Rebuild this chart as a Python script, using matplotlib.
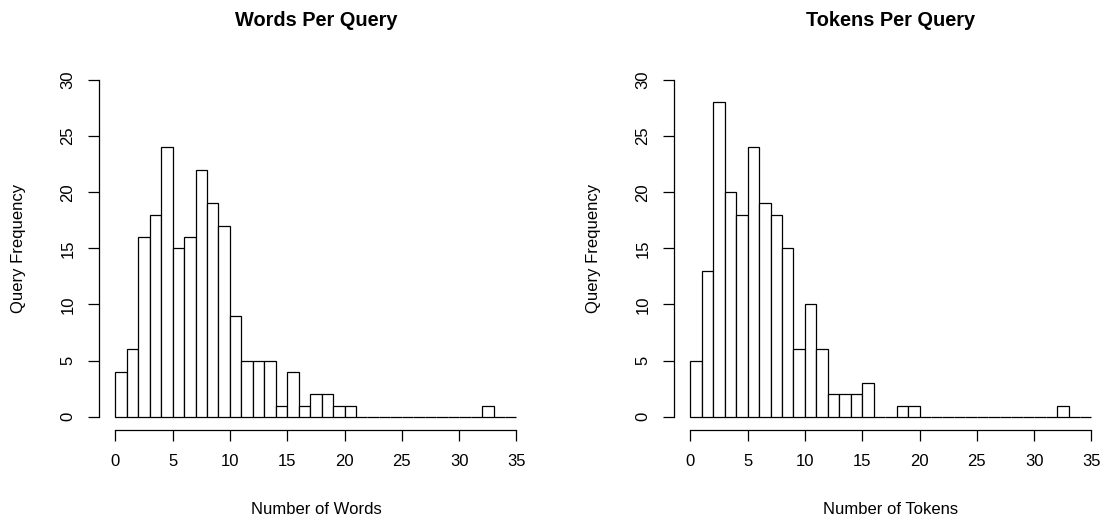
import numpy as np
import matplotlib
matplotlib.use("Agg")
import matplotlib.pyplot as plt

plt.rcParams['font.family'] = ['Liberation Sans', 'DejaVu Sans']

# histogram counts, bins of width 1 from 0 to 35
bin_edges = np.arange(0, 36)
words_counts = [4, 6, 16, 18, 24, 15, 16, 22, 19, 17, 9, 5, 5, 5, 1, 4, 1, 2, 2, 1, 1,
                0, 0, 0, 0, 0, 0, 0, 0, 0, 0, 0, 1, 0, 0]
tokens_counts = [5, 13, 28, 20, 18, 24, 19, 18, 15, 6, 10, 6, 2, 2, 2, 3, 0, 0, 1, 1,
                 0, 0, 0, 0, 0, 0, 0, 0, 0, 0, 0, 0, 1, 0, 0]

titles = ['Words Per Query', 'Tokens Per Query']
xlabels = ['Number of Words', 'Number of Tokens']
ylabel = 'Query Frequency'
xticks = [0, 5, 10, 15, 20, 25, 30, 35]
yticks = [0, 5, 10, 15, 20, 25, 30]

W, H = 1107, 522
fig = plt.figure(figsize=(W / 100, H / 100), dpi=100)

lefts = [99.3, 674.3]
ax_w, ax_top, ax_bot = 433.2, 66.5, 430.2

for i, counts in enumerate([words_counts, tokens_counts]):
    ax = fig.add_axes([lefts[i] / W, 1 - ax_bot / H, ax_w / W, (ax_bot - ax_top) / H])
    ax.bar(bin_edges[:-1], counts, width=1, align='edge', facecolor='white',
           edgecolor='black', linewidth=0.9)
    ax.set_xlim(-1.4, 36.4)
    ax.set_ylim(-1.2, 31.2)
    for s in ['top', 'right']:
        ax.spines[s].set_visible(False)
    ax.spines['bottom'].set_bounds(0, 35)
    ax.spines['left'].set_bounds(0, 30)
    for s in ['bottom', 'left']:
        ax.spines[s].set_linewidth(0.9)
    ax.set_xticks(xticks)
    ax.set_yticks(yticks)
    ax.set_yticklabels([str(v) for v in yticks], rotation=90, va='center')
    ax.tick_params(length=8.2, width=0.9, labelsize=12, pad=9)

    cx = (lefts[i] + ax_w / 2) / W
    fig.text(cx, 1 - 20 / H, titles[i], ha='center', va='center',
             fontsize=14.4, fontweight='bold')
    fig.text(cx, 1 - 510 / H, xlabels[i], ha='center', va='center', fontsize=12)
    fig.text((lefts[i] - 81) / W, 1 - (ax_top + ax_bot) / 2 / H, ylabel,
             ha='center', va='center', rotation=90, fontsize=12)

fig.savefig('out.png', dpi=100)
